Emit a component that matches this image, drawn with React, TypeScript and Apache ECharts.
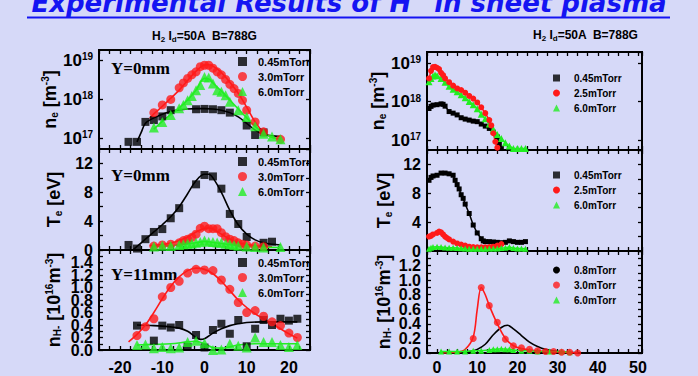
import React, { useEffect, useRef } from 'react';
import * as echarts from 'echarts';

const FONT = '"Liberation Sans", Arial, sans-serif';
const BLACK = '#000000';
const RED = '#ff1a1a';
const GREEN = '#22ee22';

// ---------- Left column (position X in mm) ----------
const L_NE_045 = [[-18, 8e16], [-16, 8e16], [-14, 2.6e17], [-12, 2.9e17], [-10, 3.6e17], [-8, 5.2e17], [-2, 5.5e17], [0, 5.6e17], [2, 5.5e17], [4, 5.2e17], [6, 4.5e17], [10, 2.1e17], [12, 1.2e17], [14, 1.4e17]];
const L_NE_045_FIT = [[-16, 8e16], [-15, 1.4e17], [-14, 2.4e17], [-12, 3.3e17], [-10, 4.1e17], [-8, 4.8e17], [-6, 5.3e17], [-4, 5.6e17], [-2, 5.7e17], [0, 5.7e17], [2, 5.6e17], [4, 5.2e17], [6, 4.5e17], [8, 3.5e17], [10, 2.4e17], [12, 1.6e17], [14, 1.25e17], [16, 1.15e17], [18, 1.1e17]];
const L_NE_30 = [[-12, 4.5e17], [-10, 7.1e17], [-8, 9.8e17], [-6, 1.95e18], [-5, 2.6e18], [-4, 3.4e18], [-3, 4.2e18], [-2, 5.0e18], [-1, 6.8e18], [0, 7.4e18], [1, 7.4e18], [2, 6.2e18], [3, 5.0e18], [4, 4.2e18], [5, 3.2e18], [6, 2.4e18], [7, 1.86e18], [8, 1.4e18], [9, 9.3e17], [10, 5.2e17], [12, 2.6e17], [14, 1.45e17], [18, 9.3e16]];
const L_NE_30_FIT = [[-13, 3.2e17], [-12, 4.2e17], [-10, 6.5e17], [-8, 1.05e18], [-6, 1.7e18], [-4, 3.0e18], [-2, 5.2e18], [0, 7.5e18], [1, 7.6e18], [2, 7.0e18], [4, 4.8e18], [6, 2.7e18], [8, 1.4e18], [10, 6.2e17], [12, 2.6e17], [14, 1.4e17], [16, 1.05e17], [18, 9.5e16]];
const L_NE_60 = [[-12, 1.86e17], [-10, 2.6e17], [-8, 3.9e17], [-6, 5.8e17], [-5, 7.1e17], [-4, 9.3e17], [-3, 1.2e18], [-2, 1.7e18], [-1, 2.3e18], [0, 3.7e18], [1, 3.6e18], [2, 2.5e18], [3, 1.7e18], [4, 1.55e18], [5, 1.26e18], [6, 8.5e17], [8, 5.2e17], [10, 3.5e17], [12, 2.0e17], [14, 1.3e17], [16, 1.1e17], [18, 9.3e16]];
const L_NE_60_FIT = [[-12, 1.7e17], [-10, 2.7e17], [-8, 4e17], [-6, 6e17], [-4, 9.5e17], [-2, 1.7e18], [0, 3.4e18], [1, 3.3e18], [2, 2.6e18], [4, 1.6e18], [6, 9.5e17], [8, 5.6e17], [10, 3.3e17], [12, 2.0e17], [14, 1.35e17], [16, 1.05e17], [18, 9.5e16]];

const L_TE_045 = [[-18, 0.7], [-16, 0.2], [-14, 1.5], [-12, 2.5], [-10, 2.9], [-8, 4.4], [-6, 5.8], [-2, 9.1], [0, 10.4], [2, 10.2], [4, 8.5], [6, 5.0], [8, 3.6], [10, 1.8], [14, 1.0], [16, 1.15]];
const L_TE_045_FIT = [[-17, 0], [-16, 0.5], [-14, 1.5], [-12, 2.5], [-10, 3.5], [-8, 4.6], [-6, 6.0], [-4, 7.8], [-2, 9.6], [0, 10.5], [1, 10.5], [2, 10.0], [4, 8.0], [6, 5.5], [8, 3.5], [10, 2.2], [12, 1.4], [14, 1.0], [16, 0.8], [18, 0.7]];
const L_TE_30 = [[-12, 0.55], [-10, 0.7], [-8, 0.8], [-6, 1.0], [-5, 1.3], [-4, 1.5], [-3, 1.75], [-2, 2.2], [-1, 3.0], [0, 3.3], [1, 2.95], [2, 2.95], [3, 2.95], [4, 2.4], [5, 1.85], [6, 1.5], [7, 1.3], [8, 1.0], [9, 0.8], [10, 0.7], [12, 0.55], [14, 0.46]];
const L_TE_30_FIT = [[-13, 0.6], [-10, 0.75], [-8, 0.95], [-6, 1.3], [-4, 1.8], [-2, 2.5], [0, 3.0], [1, 3.05], [2, 2.9], [4, 2.2], [6, 1.5], [8, 1.0], [10, 0.75], [12, 0.6], [14, 0.5], [16, 0.45]];
const L_TE_60 = [[-12, 0.5], [-10, 0.6], [-8, 0.55], [-6, 0.7], [-5, 0.8], [-4, 0.85], [-3, 0.9], [-2, 1.0], [-1, 1.1], [0, 1.3], [1, 1.15], [2, 1.1], [3, 1.05], [4, 1.0], [5, 0.85], [6, 0.8], [7, 0.7], [8, 0.6], [10, 0.5], [12, 0.4], [14, 0.35], [18, 0.4]];
const L_TE_60_FIT = [[-12, 0.5], [-8, 0.6], [-4, 0.85], [-2, 1.0], [0, 1.2], [2, 1.05], [4, 0.9], [6, 0.75], [8, 0.6], [10, 0.5], [14, 0.4], [18, 0.35]];

const L_NH_045 = [[-16, 0.39], [-12, 0.15], [-10, 0.39], [-8, 0.36], [-6, 0.4], [-4, 0.05], [-2, 0.24], [0, 0.04], [2, 0.32], [4, 0.42], [6, 0.26], [8, 0.48], [10, 0.06], [12, 0.34], [14, 0.48], [16, 0.4], [18, 0.5], [20, 0.47], [22, 0.5]];
const L_NH_045_FIT = [[-16, 0.4], [-12, 0.39], [-8, 0.37], [-6, 0.35], [-4, 0.3], [-2, 0.2], [-1, 0.17], [0, 0.18], [2, 0.27], [4, 0.34], [6, 0.39], [8, 0.42], [10, 0.44], [14, 0.45], [18, 0.45], [22, 0.45]];
const L_NH_30 = [[-16, 0.23], [-14, 0.37], [-12, 0.5], [-10, 0.85], [-8, 1.0], [-6, 1.1], [-4, 1.23], [-2, 1.29], [0, 1.28], [2, 1.27], [4, 1.12], [6, 0.97], [8, 0.76], [10, 0.6], [12, 0.63], [14, 0.54], [16, 0.45], [18, 0.39], [20, 0.27], [22, 0.2]];
const L_NH_30_FIT = [[-18, 0.13], [-16, 0.25], [-14, 0.4], [-12, 0.6], [-10, 0.82], [-8, 1.02], [-6, 1.17], [-4, 1.27], [-2, 1.31], [0, 1.29], [2, 1.22], [4, 1.1], [6, 0.95], [8, 0.8], [10, 0.68], [12, 0.58], [14, 0.5], [16, 0.42], [18, 0.34], [20, 0.26], [22, 0.19]];
const L_NH_60 = [[-16, 0.08], [-14, 0.09], [-12, 0.03], [-10, 0.05], [-8, 0.03], [-6, 0.04], [-4, 0.13], [-2, 0.15], [0, 0.11], [2, 0.0], [4, 0.01], [6, 0.1], [8, 0.07], [10, 0.04], [12, 0.2], [14, 0.13], [16, 0.13], [18, 0.08], [20, 0.05], [22, 0.08]];
const L_NH_60_FIT = [[-16, 0.08], [-12, 0.09], [-8, 0.1], [-4, 0.13], [-2, 0.14], [0, 0.1], [2, 0.04], [4, 0.03], [6, 0.05], [8, 0.08], [12, 0.1], [16, 0.1], [22, 0.1]];

// ---------- Right column (distance in mm) ----------
const R_NE_045 = [[-2, 6.6e17], [-1.5, 7.5e17], [-1, 8.1e17], [0, 8.3e17], [1, 8.7e17], [1.5, 8.5e17], [2, 7.6e17], [3, 5.5e17], [4, 5e17], [5, 4.5e17], [6, 3.8e17], [7, 3.5e17], [8, 3.3e17], [9, 3.1e17], [10, 3.0e17], [11, 2.6e17], [12, 2.3e17], [13, 2.0e17], [14, 1.6e17], [15, 1.2e17], [15.5, 8e16], [16, 6e16]];
const R_NE_25 = [[-2, 4.0e18], [-1.5, 6.3e18], [-1, 7.9e18], [-0.5, 8e18], [0, 7.6e18], [0.5, 7e18], [1, 5.6e18], [1.5, 4.9e18], [2, 4.0e18], [3, 3.2e18], [4, 2.6e18], [5, 2.2e18], [6, 2.0e18], [7, 1.7e18], [8, 1.4e18], [9, 1.2e18], [10, 9.5e17], [11, 7.1e17], [12, 5e17], [13, 3.3e17], [13.5, 2.4e17], [14, 1.5e17], [14.5, 9e16], [15, 6.3e16]];
const R_NE_60 = [[-2, 3.3e18], [-1.5, 4e18], [-1, 4.6e18], [-0.5, 4.9e18], [0, 4.7e18], [1, 4.0e18], [2, 3.2e18], [3, 2.5e18], [4, 2.1e18], [5, 1.8e18], [6, 1.5e18], [7, 1.25e18], [8, 1.0e18], [9, 8.3e17], [10, 6.5e17], [11, 4.7e17], [12, 3.6e17], [13, 2.6e17], [14, 1.9e17], [15, 1.4e17], [16, 1.1e17], [17, 8.5e16], [18, 7e16], [19, 6e16], [20, 6e16], [21, 6e16], [22, 6e16]];

const R_TE_045 = [[-2, 9.8], [-1.5, 10.2], [-1, 10.4], [0, 10.5], [1, 10.8], [2, 10.8], [3, 10.7], [4, 10.5], [4.5, 9.8], [5, 9.2], [5.5, 8.6], [6, 7.8], [6.5, 7.3], [7, 6.5], [8, 5.2], [9, 3.6], [10, 2.5], [11, 1.7], [11.5, 1.4], [12, 1.3], [13, 1.3], [14, 1.25], [15, 1.2], [16, 1.15], [17, 1.2], [18, 1.4], [19, 1.3], [20, 1.2], [21, 1.2], [22, 1.3]];
const R_TE_25 = [[-2, 2.0], [-1.5, 2.1], [-1, 2.3], [0, 2.5], [0.5, 2.7], [1, 2.6], [1.5, 2.3], [2, 2.0], [2.5, 1.8], [3, 1.6], [4, 1.3], [5, 1.05], [6, 0.9], [7, 0.75], [8, 0.6], [9, 0.55], [10, 0.5], [11, 0.5], [12, 0.5], [13, 0.55], [14, 0.6], [15, 0.75], [16, 0.95]];
const R_TE_60 = [[-2, 0.3], [-1.5, 0.45], [-1, 0.55], [0, 0.6], [1, 0.55], [2, 0.5], [3, 0.45], [4, 0.45], [5, 0.4], [6, 0.38], [7, 0.35], [8, 0.32], [9, 0.3], [10, 0.3], [11, 0.3], [12, 0.32], [13, 0.35], [14, 0.35], [15, 0.35], [16, 0.4], [17, 0.45], [18, 0.55], [19, 0.4], [20, 0.35], [21, 0.35], [22, 0.3]];

const R_NH_08 = [[1, 0], [5, 0.005], [8, 0.02], [10, 0.05], [12, 0.12], [14, 0.25], [16, 0.35], [17.5, 0.38], [19, 0.33], [21, 0.24], [23, 0.15], [25, 0.09], [27, 0.05], [30, 0.02], [33, 0.01], [35, 0.005]];
const R_NH_30 = [[9, 0.2], [11, 0.9], [13, 0.65], [15, 0.42], [17, 0.19], [19, 0.1], [21, 0.07], [23, 0.05], [25, 0.03], [27, 0.02], [29, 0.02], [31, 0.01], [33, 0.01], [35, 0]];
const R_NH_30_FIT = [[1, 0], [5, 0.01], [7, 0.05], [9, 0.22], [10, 0.6], [11, 0.9], [12, 0.8], [13, 0.65], [15, 0.4], [17, 0.2], [19, 0.1], [21, 0.06], [25, 0.03], [30, 0.015], [35, 0]];
const R_NH_60 = [[1, 0.02], [3, 0.02], [5, 0.02], [7, 0.02], [9, 0.03], [11, 0.03], [13, 0.04], [14, 0.05], [15, 0.05], [16, 0.06], [17, 0.05], [18, 0.05], [19, 0.04], [21, 0.03], [23, 0.03], [25, 0.02], [28, 0.02], [31, 0.02], [33, 0.01]];

const LEFT_LEGEND = ['0.45mTorr', '3.0mTorr', '6.0mTorr'];
const RIGHT_LEGEND = ['0.45mTorr', '2.5mTorr', '6.0mTorr'];
const RIGHT_NH_LEGEND = ['0.8mTorr', '3.0mTorr', '6.0mTorr'];

const GRIDS = [
  { left: 99, top: 50, width: 211, height: 99 },
  { left: 99, top: 149, width: 211, height: 101 },
  { left: 99, top: 250, width: 211, height: 100 },
  { left: 427, top: 52, width: 215, height: 98 },
  { left: 427, top: 150, width: 215, height: 101 },
  { left: 427, top: 251, width: 215, height: 102 },
];

const TICK = { show: true, inside: true, length: 4, lineStyle: { color: BLACK, width: 1.3 } };
const NO_LINE = { show: false, onZero: false };
const LABEL = { fontFamily: FONT, fontWeight: 'bold', fontSize: 16, color: BLACK };
const SUP_RICH = {
  a: { fontFamily: FONT, fontWeight: 'bold', fontSize: 17, color: BLACK },
  b: { fontFamily: FONT, fontWeight: 'bold', fontSize: 10, color: BLACK, verticalAlign: 'top', padding: [0, 0, 9, 0] },
};
const NAME_RICH = {
  n: { fontFamily: FONT, fontWeight: 'bold', fontSize: 18, color: BLACK },
  s: { fontFamily: FONT, fontWeight: 'bold', fontSize: 10, color: BLACK, padding: [8, 0, 0, 0] },
  p: { fontFamily: FONT, fontWeight: 'bold', fontSize: 10, color: BLACK, padding: [0, 0, 9, 0] },
};

function xAxes(g: number, min: number, max: number, showLabel: boolean, margin: number) {
  const base = {
    type: 'value', gridIndex: g, min, max, interval: 2.5,
    axisLine: NO_LINE, axisTick: TICK, splitLine: { show: false },
  };
  return [
    {
      ...base, position: 'bottom',
      axisLabel: showLabel
        ? { ...LABEL, margin, formatter: (v: number) => (Math.abs(v % 10) < 1e-6 ? String(v) : '') }
        : { show: false },
    },
    { ...base, position: 'top', axisLabel: { show: false } },
  ];
}

function yAxes(g: number, cfg: any, name: string, nameGap: number) {
  const base = { gridIndex: g, axisLine: NO_LINE, axisTick: TICK, splitLine: { show: false }, ...cfg.scale };
  return [
    {
      ...base, position: 'left', name, nameLocation: 'middle', nameRotate: 90, nameGap,
      nameTextStyle: { ...NAME_RICH.n, rich: NAME_RICH },
      axisLabel: { ...LABEL, lineHeight: cfg.lh, margin: 6, rich: SUP_RICH, showMinLabel: cfg.showMin, showMaxLabel: false, formatter: cfg.fmt },
    },
    { ...base, position: 'right', axisLabel: { show: false } },
  ];
}

const logFmt = (v: number) => '{a|10}{b|' + Math.round(Math.log10(v)) + '}';
const teFmt = (v: number) => (Math.round(v) % 4 === 0 ? String(Math.round(v)) : '');
const nhFmt = (v: number) => (Math.round(v * 10) % 2 === 0 ? v.toFixed(1) : '');

function pts(name: string, g: number, data: number[][], symbol: string, color: string, size: number) {
  return { type: 'scatter', name, xAxisIndex: 2 * g, yAxisIndex: 2 * g, data, symbol, symbolSize: size, itemStyle: { color }, z: 3, silent: true };
}
function fit(g: number, data: number[][], color: string) {
  return { type: 'line', name: 'fit', xAxisIndex: 2 * g, yAxisIndex: 2 * g, data, smooth: 0.35, symbol: 'none', lineStyle: { color, width: 1.6 }, itemStyle: { color }, z: 2, silent: true };
}
function conn(name: string, g: number, data: number[][], symbol: string, color: string, size: number) {
  return { type: 'line', name, xAxisIndex: 2 * g, yAxisIndex: 2 * g, data, symbol, symbolSize: size, showAllSymbol: true, lineStyle: { color, width: 1.5 }, itemStyle: { color }, z: 3, silent: true };
}

function legend(names: string[], left: number, top: number, big: boolean, icons: string[]) {
  return {
    data: names.map((n, i) => ({ name: n, icon: icons[i] })),
    left, top, orient: 'vertical', padding: 0, selectedMode: false,
    itemWidth: big ? 9 : 7, itemHeight: big ? 9 : 7, itemGap: big ? 4 : 5,
    textStyle: { fontFamily: FONT, fontWeight: 'bold', fontSize: big ? 11 : 10, color: BLACK, padding: [0, 0, 0, big ? 6 : 9] },
  };
}

export default function App() {
  const ref = useRef<HTMLDivElement>(null);
  useEffect(() => {
    if (!ref.current) return;
    const chart = echarts.init(ref.current, undefined, { renderer: 'svg' });
    const logL = { scale: { type: 'log', logBase: 10, min: Math.pow(10, 16.72), max: Math.pow(10, 19.26) }, fmt: logFmt, showMin: false, lh: 17 };
    const logR = { scale: { type: 'log', logBase: 10, min: Math.pow(10, 16.74), max: Math.pow(10, 19.29) }, fmt: logFmt, showMin: false, lh: 17 };
    const te = { scale: { type: 'value', min: 0, max: 14, interval: 2 }, fmt: teFmt, showMin: true, lh: 14 };
    const nhL = { scale: { type: 'value', min: 0, max: 1.6, interval: 0.1 }, fmt: nhFmt, showMin: true, lh: 11 };
    const nhR = { scale: { type: 'value', min: 0, max: 1.4, interval: 0.1 }, fmt: nhFmt, showMin: true, lh: 12 };

    const neName = '{n|n}{s|e} [m{p|-3}]';
    const teName = '{n|T}{s|e} [eV]';
    const nhName = '{n|n}{s|H-} [10{p|16}m{p|-3}]';
    const squares = ['rect', 'circle', 'triangle'];

    const option: any = {
      animation: false,
      backgroundColor: '#d6d9f8',
      grid: GRIDS.map((g) => ({ ...g, show: true, borderColor: BLACK, borderWidth: 2, backgroundColor: 'transparent' })),
      xAxis: [
        ...xAxes(0, -25, 25, false, 8), ...xAxes(1, -25, 25, false, 8), ...xAxes(2, -25, 25, true, 9),
        ...xAxes(3, -2.5, 51, false, 6), ...xAxes(4, -2.5, 51, false, 6), ...xAxes(5, -2.5, 51, true, 6),
      ],
      yAxis: [
        ...yAxes(0, logL, neName, 38), ...yAxes(1, te, teName, 36), ...yAxes(2, nhL, nhName, 36),
        ...yAxes(3, logR, neName, 36), ...yAxes(4, te, teName, 34), ...yAxes(5, nhR, nhName, 34),
      ],
      legend: [
        legend(LEFT_LEGEND, 238, 56, true, squares),
        legend(LEFT_LEGEND, 238, 156, true, squares),
        legend(LEFT_LEGEND, 238, 257, true, squares),
        legend(RIGHT_LEGEND, 553, 73, false, squares),
        legend(RIGHT_LEGEND, 553, 170, false, squares),
        legend(RIGHT_NH_LEGEND, 553, 265, false, ['circle', 'circle', 'triangle']),
      ],
      series: [
        fit(0, L_NE_045_FIT, BLACK), fit(0, L_NE_30_FIT, RED), fit(0, L_NE_60_FIT, GREEN),
        pts('0.45mTorr', 0, L_NE_045, 'rect', BLACK, 8), pts('3.0mTorr', 0, L_NE_30, 'circle', RED, 9), pts('6.0mTorr', 0, L_NE_60, 'triangle', GREEN, 10),
        fit(1, L_TE_045_FIT, BLACK), fit(1, L_TE_30_FIT, RED), fit(1, L_TE_60_FIT, GREEN),
        pts('0.45mTorr', 1, L_TE_045, 'rect', BLACK, 8), pts('3.0mTorr', 1, L_TE_30, 'circle', RED, 9), pts('6.0mTorr', 1, L_TE_60, 'triangle', GREEN, 10),
        fit(2, L_NH_045_FIT, BLACK), fit(2, L_NH_30_FIT, RED), fit(2, L_NH_60_FIT, GREEN),
        pts('0.45mTorr', 2, L_NH_045, 'rect', BLACK, 8), pts('3.0mTorr', 2, L_NH_30, 'circle', RED, 9), pts('6.0mTorr', 2, L_NH_60, 'triangle', GREEN, 10),
        conn('0.45mTorr', 3, R_NE_045, 'rect', BLACK, 5), conn('6.0mTorr', 3, R_NE_60, 'triangle', GREEN, 7), conn('2.5mTorr', 3, R_NE_25, 'circle', RED, 6),
        conn('0.45mTorr', 4, R_TE_045, 'rect', BLACK, 5), conn('2.5mTorr', 4, R_TE_25, 'circle', RED, 6), conn('6.0mTorr', 4, R_TE_60, 'triangle', GREEN, 6),
        conn('6.0mTorr', 5, R_NH_60, 'triangle', GREEN, 6),
        { ...fit(5, R_NH_08, BLACK), name: '0.8mTorr' },
        fit(5, R_NH_30_FIT, RED),
        pts('3.0mTorr', 5, R_NH_30, 'circle', RED, 7),
      ],
      graphic: [
        { type: 'text', left: 'center', top: -10, style: { text: 'Experimental Results of H⁻ in sheet plasma', fontFamily: '"DejaVu Sans", sans-serif', fontWeight: 'bold', fontStyle: 'italic', fontSize: 26, fill: '#1414f2' } },
        { type: 'rect', shape: { x: 27, y: 16.5, width: 643, height: 2 }, style: { fill: '#1414f2' } },
        { type: 'text', x: 152, y: 36, style: { text: 'H{s|2} I{s|d}=50A  B=788G', fontFamily: FONT, fontWeight: 'bold', fontSize: 12, fill: BLACK, verticalAlign: 'middle', rich: { s: { fontFamily: FONT, fontWeight: 'bold', fontSize: 8, fill: BLACK, padding: [7, 0, 0, 0] } } } },
        { type: 'text', x: 533, y: 35, style: { text: 'H{s|2} I{s|d}=50A  B=788G', fontFamily: FONT, fontWeight: 'bold', fontSize: 12, fill: BLACK, verticalAlign: 'middle', rich: { s: { fontFamily: FONT, fontWeight: 'bold', fontSize: 8, fill: BLACK, padding: [7, 0, 0, 0] } } } },
        { type: 'text', x: 111, y: 68, style: { text: 'Y=0mm', fontFamily: '"Liberation Serif", serif', fontWeight: 'bold', fontSize: 17, fill: BLACK, verticalAlign: 'middle' } },
        { type: 'text', x: 111, y: 175, style: { text: 'Y=0mm', fontFamily: '"Liberation Serif", serif', fontWeight: 'bold', fontSize: 17, fill: BLACK, verticalAlign: 'middle' } },
        { type: 'text', x: 111, y: 274, style: { text: 'Y=11mm', fontFamily: '"Liberation Serif", serif', fontWeight: 'bold', fontSize: 17, fill: BLACK, verticalAlign: 'middle' } },
      ],
    };
    chart.setOption(option);
    return () => chart.dispose();
  }, []);
  return <div ref={ref} style={{ position: 'fixed', left: 0, top: 0, width: 698, height: 376 }} />;
}
